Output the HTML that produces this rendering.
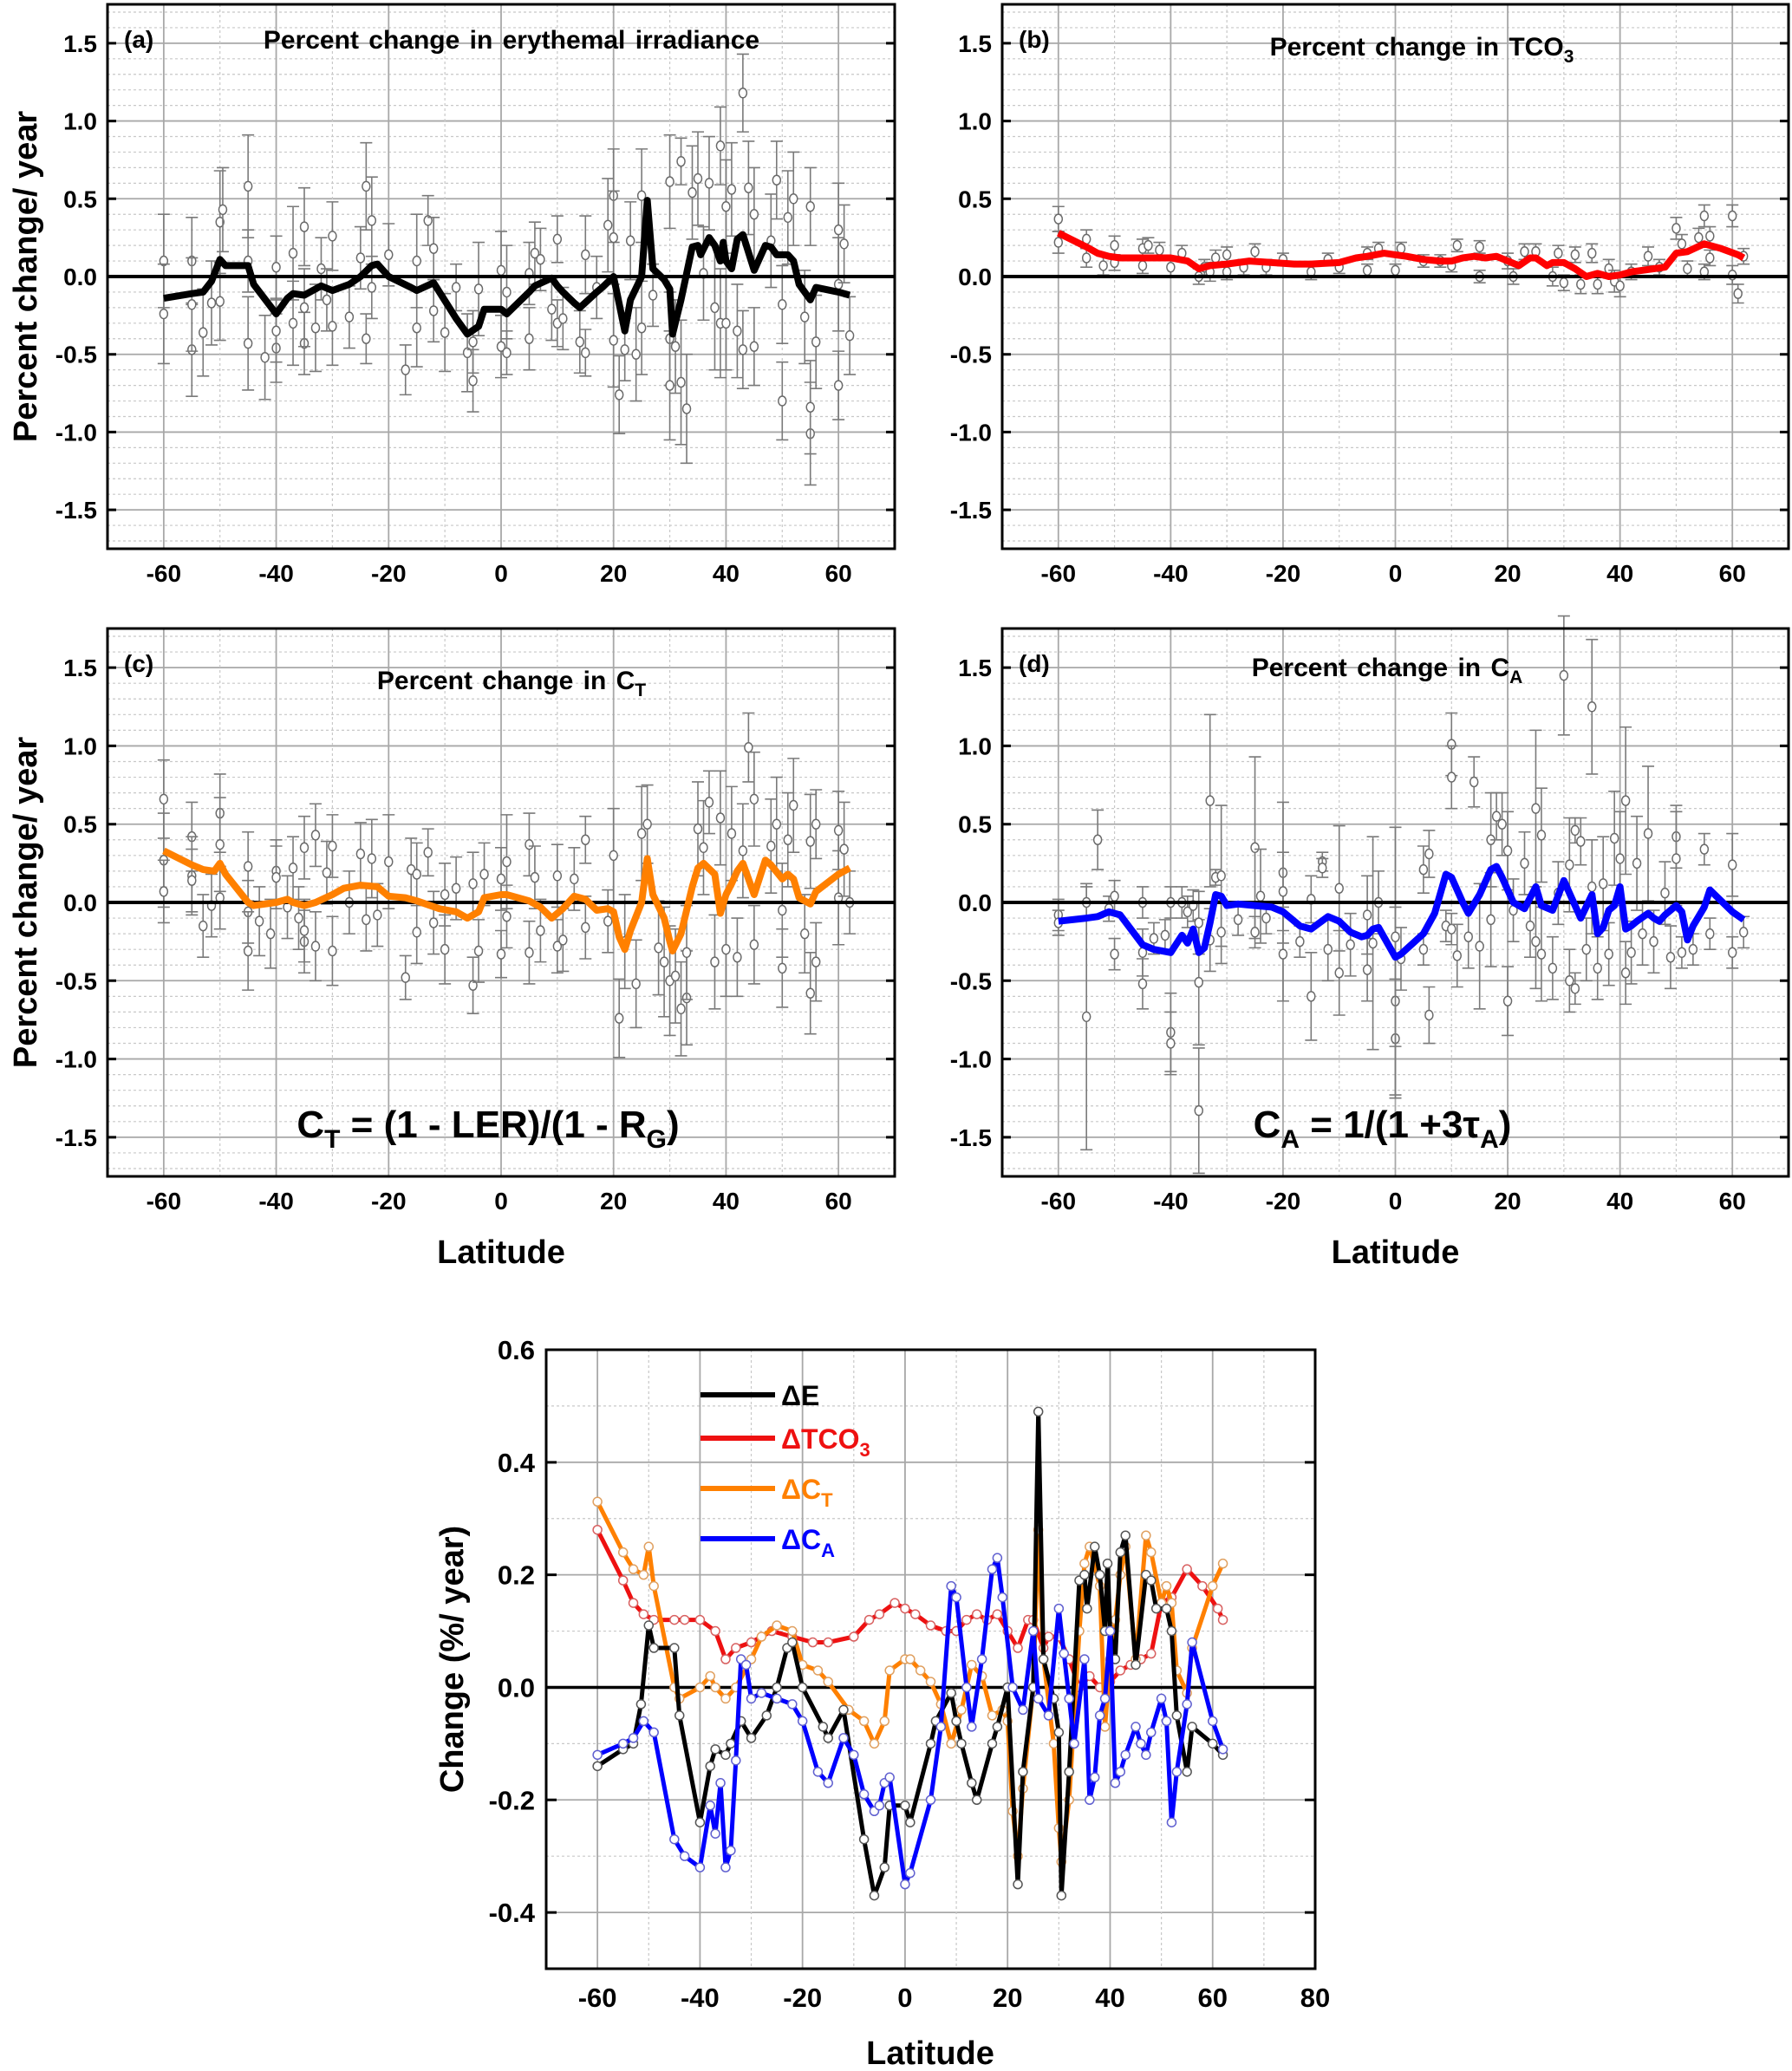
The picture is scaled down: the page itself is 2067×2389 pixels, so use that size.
<!DOCTYPE html>
<html><head><meta charset="utf-8">
<style>
html,body{margin:0;padding:0;background:#fff;}
svg{display:block;font-family:"Liberation Sans",Arial,sans-serif;font-weight:bold;}
</style></head>
<body>
<svg id="fig" width="2067" height="2389" viewBox="0 0 2067 2389" xmlns="http://www.w3.org/2000/svg"></svg>
<script>
// ---- series data (latitude, % change / year) ----
const latE=[-60,-55,-53,-51.5,-50,-49,-45,-44,-40,-38,-37,-35,-34,-32,-30,-27,-25,-23,-22,-20,-16,-15,-12,-8,-6,-4,-3,0,1,5,6,9,10,11,13,14,17,18,20,22,23,25,26,27,29,30,30.5,32,34,35,35.5,37,38,39,39.5,40,41,42,43,45,47,48,49,51,52,53,55,56,60,62];
const valE=[-0.14,-0.11,-0.10,-0.03,0.11,0.07,0.07,-0.05,-0.24,-0.14,-0.11,-0.12,-0.10,-0.06,-0.09,-0.05,0.0,0.07,0.08,0.0,-0.07,-0.09,-0.04,-0.27,-0.37,-0.32,-0.21,-0.21,-0.24,-0.10,-0.06,-0.01,-0.06,-0.10,-0.17,-0.20,-0.10,-0.07,0.0,-0.35,-0.15,0.0,0.49,0.05,-0.02,-0.08,-0.37,-0.15,0.19,0.20,0.14,0.25,0.20,0.10,0.22,0.10,0.05,0.24,0.27,0.04,0.20,0.19,0.14,0.14,0.10,-0.05,-0.15,-0.07,-0.10,-0.12];
const latT=[-60,-55,-53,-51,-49,-45,-43,-40,-37,-35,-33,-30,-26,-22,-18,-15,-10,-7,-5,-2,0,2,5,8,10,12,14,16,18,20,22,24,25,27,28,30,32,34,36,38,40,42,44,46,48,50,52,55,58,61,62];
const valT=[0.28,0.19,0.15,0.13,0.12,0.12,0.12,0.12,0.10,0.05,0.07,0.08,0.10,0.09,0.08,0.08,0.09,0.12,0.13,0.15,0.14,0.13,0.11,0.10,0.10,0.12,0.13,0.12,0.13,0.10,0.07,0.12,0.12,0.07,0.09,0.09,0.05,0.00,0.02,0.00,0.01,0.03,0.04,0.05,0.06,0.15,0.16,0.21,0.18,0.14,0.12];
const latC=[-60,-55,-53,-51,-50,-49,-45,-44,-40,-38,-37,-35,-33,-30,-28,-25,-22,-20,-17,-15,-11,-8,-6,-4,-3,0,1,3,5,7,9,11,13,15,17,19,20,21,22,23,25,26,27,29,30,30.5,32,34,35,36,38,39,40,41,42,43,45,47,48,50,51,52,53,55,56,60,62];
const valC=[0.33,0.24,0.21,0.20,0.25,0.18,0.0,-0.02,0.0,0.02,0.0,-0.02,0.0,0.05,0.09,0.11,0.10,0.04,0.03,0.01,-0.04,-0.06,-0.10,-0.06,0.03,0.05,0.05,0.03,0.01,-0.03,-0.10,-0.04,0.04,0.02,-0.05,-0.04,-0.06,-0.22,-0.30,-0.18,0.0,0.28,0.05,-0.10,-0.25,-0.31,-0.20,0.10,0.22,0.25,0.18,-0.07,0.05,0.12,0.20,0.25,0.05,0.27,0.24,0.15,0.18,0.15,0.03,-0.01,0.07,0.18,0.22];
const latA=[-60,-55,-53,-51,-49,-45,-43,-40,-38,-37,-36,-35,-34,-33,-32,-31,-30,-28,-25,-22,-20,-17,-15,-12,-10,-8,-6,-5,-4,-3,0,1,5,7,9,10,12,13,15,17,18,19,21,23,25,26,28,30,31,32,33,35,36,37,38,39,40,41,42,43,45,46,47,48,50,51,52,53,55,56,60,62];
const valA=[-0.12,-0.10,-0.09,-0.06,-0.08,-0.27,-0.30,-0.32,-0.21,-0.26,-0.17,-0.32,-0.29,-0.13,0.05,0.04,-0.02,-0.01,-0.02,-0.03,-0.06,-0.15,-0.17,-0.09,-0.12,-0.19,-0.22,-0.21,-0.17,-0.16,-0.35,-0.33,-0.20,-0.07,0.18,0.16,0.0,-0.07,0.05,0.21,0.23,0.16,0.0,-0.04,0.10,-0.02,-0.05,0.14,0.06,-0.02,-0.10,0.05,-0.20,-0.16,-0.05,-0.02,0.10,-0.17,-0.15,-0.12,-0.07,-0.10,-0.12,-0.08,-0.02,-0.06,-0.24,-0.15,-0.03,0.08,-0.06,-0.11];

// ---- station scatter points: [lat, value, error] ----
const ptsA=[[-60,0.1,0.3],[-60,-0.24,0.32],[-55,-0.47,0.3],[-55,0.1,0.28],[-55,-0.18,0.3],[-53,-0.36,0.28],[-51.5,-0.17,0.27],[-50,0.35,0.33],[-49.5,0.43,0.27],[-50,-0.16,0.25],[-45,0.58,0.33],[-45,-0.43,0.3],[-45,0.1,0.2],[-42,-0.52,0.27],[-40,0.06,0.2],[-40,-0.46,0.22],[-40,-0.35,0.2],[-37,0.15,0.3],[-37,-0.3,0.27],[-35,0.32,0.25],[-35,-0.43,0.2],[-35,-0.2,0.25],[-33,-0.33,0.28],[-32,0.05,0.2],[-31,-0.15,0.2],[-30,0.26,0.22],[-30,-0.32,0.25],[-27,-0.26,0.2],[-25,0.12,0.2],[-24,0.58,0.28],[-24,-0.4,0.16],[-23,0.36,0.28],[-23,-0.07,0.2],[-20,0.14,0.2],[-17,-0.6,0.16],[-15,0.1,0.3],[-15,-0.33,0.25],[-13,0.36,0.16],[-12,0.18,0.2],[-12,-0.22,0.2],[-10,-0.36,0.25],[-8,-0.07,0.15],[-6,-0.49,0.25],[-5,-0.67,0.2],[-5,-0.42,0.2],[-4,-0.08,0.3],[0,-0.45,0.2],[0,0.04,0.25],[1,-0.49,0.14],[1,-0.1,0.3],[5,0.02,0.2],[5,-0.4,0.2],[6,0.15,0.2],[7,0.11,0.2],[9,-0.21,0.2],[10,0.24,0.15],[10,-0.3,0.15],[11,-0.27,0.2],[14,-0.42,0.2],[15,-0.49,0.15],[15,0.14,0.25],[17,-0.07,0.2],[19,0.33,0.3],[20,0.52,0.3],[20,0.25,0.3],[20,-0.41,0.3],[21,-0.76,0.25],[22,-0.47,0.2],[23,0.23,0.25],[24,-0.5,0.3],[25,0.52,0.3],[25,-0.33,0.3],[27,-0.12,0.2],[30,0.61,0.3],[30,-0.4,0.3],[30,-0.7,0.35],[31,-0.45,0.3],[32,0.74,0.15],[32,-0.68,0.4],[33,-0.85,0.35],[34,0.54,0.3],[35,0.63,0.3],[36,0.02,0.3],[37,0.6,0.3],[38,-0.2,0.4],[39,0.84,0.25],[39,-0.3,0.35],[40,0.45,0.3],[40,-0.3,0.3],[41,0.56,0.3],[42,-0.35,0.3],[43,1.18,0.25],[43,-0.47,0.25],[44,0.57,0.3],[45,-0.45,0.25],[45,0.4,0.3],[48,0.23,0.3],[49,0.62,0.25],[50,-0.18,0.25],[50,-0.8,0.25],[51,0.38,0.3],[52,0.5,0.3],[54,-0.26,0.3],[55,-1.01,0.33],[55,-0.84,0.3],[55,0.45,0.25],[56,-0.42,0.3],[60,0.3,0.3],[60,-0.7,0.22],[60,-0.05,0.3],[61,0.21,0.25],[62,-0.38,0.25]];
const ptsB=[[-60,0.37,0.08],[-60,0.22,0.07],[-55,0.24,0.06],[-55,0.12,0.06],[-52,0.07,0.06],[-50,0.2,0.06],[-50,0.09,0.05],[-45,0.18,0.06],[-45,0.07,0.05],[-44,0.2,0.05],[-42,0.17,0.05],[-40,0.06,0.06],[-38,0.15,0.05],[-35,0.0,0.05],[-34,0.06,0.05],[-33,0.03,0.06],[-32,0.12,0.05],[-30,0.14,0.05],[-30,0.03,0.05],[-27,0.06,0.05],[-25,0.16,0.05],[-23,0.06,0.05],[-20,0.11,0.04],[-15,0.03,0.05],[-12,0.11,0.04],[-10,0.06,0.04],[-5,0.15,0.04],[-5,0.04,0.04],[-3,0.18,0.04],[0,0.04,0.04],[1,0.18,0.04],[5,0.1,0.04],[8,0.1,0.04],[10,0.07,0.04],[11,0.2,0.04],[15,0.19,0.04],[15,0.0,0.04],[20,0.1,0.05],[21,0.0,0.05],[23,0.16,0.05],[25,0.16,0.05],[28,0.0,0.06],[29,0.15,0.05],[30,-0.04,0.05],[32,0.14,0.05],[33,-0.05,0.06],[35,0.15,0.06],[36,-0.05,0.06],[38,0.05,0.06],[39,-0.03,0.07],[40,-0.06,0.07],[42,0.03,0.05],[45,0.13,0.06],[47,0.06,0.05],[50,0.31,0.07],[51,0.21,0.06],[52,0.05,0.05],[54,0.25,0.06],[55,0.39,0.07],[55,0.03,0.05],[56,0.26,0.06],[56,0.12,0.05],[60,0.39,0.07],[60,0.01,0.06],[61,-0.11,0.06],[62,0.13,0.05]];
const ptsC=[[-60,0.66,0.25],[-60,0.27,0.3],[-60,0.07,0.2],[-55,0.42,0.22],[-55,0.17,0.25],[-55,0.14,0.2],[-53,-0.15,0.2],[-51.5,-0.02,0.2],[-50,0.57,0.25],[-50,0.37,0.3],[-50,0.03,0.2],[-45,0.23,0.22],[-45,-0.06,0.2],[-45,-0.31,0.25],[-43,-0.12,0.22],[-41,-0.2,0.22],[-40,0.2,0.2],[-40,0.16,0.2],[-38,-0.03,0.2],[-37,0.22,0.2],[-36,-0.1,0.2],[-35,0.35,0.2],[-35,-0.25,0.2],[-35,-0.18,0.2],[-33,0.43,0.2],[-33,-0.28,0.22],[-31,0.19,0.2],[-30,0.36,0.2],[-30,-0.31,0.22],[-27,0.0,0.2],[-25,0.31,0.2],[-24,-0.11,0.2],[-23,0.28,0.25],[-22,-0.08,0.2],[-20,0.26,0.3],[-17,-0.48,0.14],[-16,0.21,0.2],[-15,0.18,0.2],[-15,-0.19,0.2],[-13,0.32,0.15],[-12,-0.13,0.2],[-10,-0.3,0.22],[-10,0.05,0.2],[-8,0.09,0.2],[-5,-0.53,0.18],[-5,0.12,0.2],[-4,-0.31,0.2],[-3,0.18,0.2],[0,-0.33,0.15],[0,0.15,0.2],[1,0.26,0.3],[1,-0.09,0.2],[5,0.37,0.2],[5,-0.32,0.2],[6,0.16,0.2],[7,-0.18,0.2],[10,-0.28,0.17],[10,0.17,0.2],[11,-0.24,0.2],[13,0.15,0.2],[15,0.4,0.15],[15,-0.16,0.2],[19,-0.12,0.2],[20,0.3,0.3],[21,-0.74,0.25],[22,-0.25,0.3],[24,-0.52,0.28],[25,0.44,0.3],[26,0.5,0.25],[28,-0.29,0.3],[29,-0.38,0.35],[30,-0.5,0.35],[31,-0.47,0.3],[32,-0.68,0.3],[33,-0.61,0.3],[33,-0.32,0.3],[35,0.47,0.3],[36,0.35,0.3],[37,0.64,0.2],[38,-0.38,0.3],[39,0.54,0.3],[40,-0.3,0.3],[41,0.44,0.3],[42,-0.35,0.25],[43,0.33,0.3],[44,0.99,0.22],[45,0.66,0.3],[45,-0.27,0.25],[48,0.36,0.3],[49,0.5,0.3],[50,-0.05,0.3],[50,-0.42,0.25],[51,0.4,0.3],[52,0.62,0.3],[54,-0.2,0.25],[55,-0.58,0.26],[55,0.39,0.3],[56,0.5,0.22],[56,-0.38,0.25],[60,0.46,0.25],[60,0.03,0.3],[61,0.34,0.3],[62,0.0,0.2]];
const ptsD=[[-60,-0.08,0.1],[-60,-0.13,0.08],[-55,-0.73,0.85],[-55,0.0,0.1],[-53,0.4,0.19],[-51,-0.04,0.08],[-50,0.04,0.1],[-50,-0.33,0.1],[-45,0.0,0.1],[-45,-0.32,0.15],[-45,-0.52,0.16],[-43,-0.23,0.1],[-41,-0.21,0.1],[-40,-0.83,0.25],[-40,-0.9,0.2],[-40,0.0,0.1],[-38,0.0,0.1],[-37,-0.06,0.1],[-36,-0.02,0.1],[-35,-1.33,0.4],[-35,-0.51,0.4],[-35,-0.13,0.2],[-33,0.65,0.55],[-33,-0.24,0.2],[-32,0.16,0.05],[-31,0.17,0.45],[-31,-0.19,0.2],[-28,-0.11,0.1],[-25,0.35,0.58],[-25,-0.19,0.1],[-24,0.04,0.3],[-23,-0.1,0.1],[-20,0.19,0.45],[-20,0.07,0.25],[-20,-0.33,0.3],[-17,-0.25,0.1],[-15,-0.6,0.28],[-15,0.02,0.15],[-13,0.26,0.06],[-13,0.22,0.06],[-12,-0.3,0.2],[-10,0.09,0.4],[-10,-0.45,0.27],[-8,-0.27,0.2],[-5,-0.08,0.25],[-5,-0.43,0.2],[-4,-0.26,0.68],[-3,0.0,0.2],[0,-0.87,0.38],[0,-0.63,0.6],[0,-0.22,0.7],[1,-0.36,0.2],[5,0.21,0.15],[5,-0.3,0.1],[6,-0.72,0.18],[6,0.31,0.15],[9,-0.15,0.1],[10,1.01,0.2],[10,0.8,0.2],[10,-0.17,0.1],[11,-0.34,0.2],[13,-0.22,0.2],[14,0.77,0.16],[15,-0.28,0.4],[17,0.4,0.3],[17,-0.11,0.3],[18,0.55,0.15],[19,0.5,0.2],[20,-0.63,0.22],[20,0.33,0.25],[21,-0.05,0.2],[23,0.25,0.2],[24,-0.15,0.2],[25,0.6,0.5],[25,-0.25,0.3],[26,0.43,0.3],[26,-0.33,0.3],[28,-0.42,0.2],[29,0.06,0.2],[30,1.45,0.38],[31,0.24,0.3],[31,-0.5,0.2],[32,0.46,0.08],[32,-0.55,0.1],[33,0.39,0.15],[34,-0.3,0.2],[35,1.25,0.43],[35,0.1,0.3],[36,-0.42,0.2],[37,0.12,0.3],[38,-0.33,0.2],[39,0.41,0.3],[40,0.28,0.3],[41,0.65,0.47],[41,-0.45,0.2],[42,-0.32,0.2],[43,0.25,0.3],[44,-0.2,0.2],[45,0.44,0.43],[46,-0.25,0.2],[48,0.06,0.2],[49,-0.35,0.2],[50,0.42,0.2],[50,0.28,0.3],[51,-0.32,0.1],[53,-0.3,0.1],[55,0.34,0.1],[56,-0.2,0.1],[60,0.24,0.2],[60,-0.32,0.1],[62,-0.19,0.1]];

// ---- tick labels ----
const xTicksTop=[-60,-40,-20,0,20,40,60];
const yTicksTop=[1.5,1.0,0.5,0.0,-0.5,-1.0,-1.5];
const xTicksBot=[-60,-40,-20,0,20,40,60,80];
const yTicksBot=[0.6,0.4,0.2,0.0,-0.2,-0.4];

const NS="http://www.w3.org/2000/svg";
const svg=document.getElementById('fig');
function el(tag,attrs,parent){const e=document.createElementNS(NS,tag);for(const k in attrs)e.setAttribute(k,attrs[k]);(parent||svg).appendChild(e);return e;}

function makeAxes(x0,x1,y0,y1,xmin,xmax,ymin,ymax){
  return {x:v=>x0+(v-xmin)/(xmax-xmin)*(x1-x0), y:v=>y1-(v-ymin)/(ymax-ymin)*(y1-y0)};
}

function grid(g,ax,x0,x1,y0,y1,xmin,xmax,xmaj,xmin2,ymin,ymax,ymaj,ymin2){
  for(let v=Math.ceil(ymin/ymin2)*ymin2; v<=ymax+1e-9; v+=ymin2){
    const isMaj=Math.abs(v/ymaj-Math.round(v/ymaj))<1e-6;
    const l=el('line',{x1:x0,x2:x1,y1:ax.y(v),y2:ax.y(v),stroke:isMaj?'#a8a8a8':'#c8c8c8','stroke-width':isMaj?1.8:1.2,'stroke-dasharray':isMaj?'':'3,3'},g);
    
    
  }
  for(let v=Math.ceil(xmin/xmin2)*xmin2; v<=xmax+1e-9; v+=xmin2){
    const isMaj=Math.abs(v/xmaj-Math.round(v/xmaj))<1e-6;
    const l=el('line',{x1:ax.x(v),x2:ax.x(v),y1:y0,y2:y1,stroke:isMaj?'#a8a8a8':'#c8c8c8','stroke-width':isMaj?1.8:1.2,'stroke-dasharray':isMaj?'':'3,3'},g);
    
    
  }
}

function panel(id,x0,x1,y0,y1,pts,lat,val,color,letter,title,titleX,titleY,formula,showYLabel,showXLabel){
  const g=el('g',{});
  
  
  const ax=makeAxes(x0,x1,y0,y1,-70,70,-1.75,1.75);
  grid(g,ax,x0,x1,y0,y1,-70,70,20,10,-1.75,1.75,0.5,0.1);
  const pg=el('g',{},g);
  
  
  pts.forEach(p=>{
    const cx=ax.x(p[0]),cy=ax.y(p[1]),t=ax.y(p[1]+p[2]),b=ax.y(p[1]-p[2]);
    const eb=el('path',{d:`M${cx},${t}V${b}M${cx-7},${t}H${cx+7}M${cx-7},${b}H${cx+7}`,stroke:'#7a7a7a','stroke-width':1.6,fill:'none'},pg);
    
    
    const c=el('ellipse',{cx:cx,cy:cy,rx:4.5,ry:5.5,fill:'#fff',stroke:'#6a6a6a','stroke-width':1.5},pg);
    
    
  });
  const z=el('line',{x1:x0,x2:x1,y1:ax.y(0),y2:ax.y(0),stroke:'#000','stroke-width':4},g);
  
  
  const d=lat.map((v,i)=>(i?'L':'M')+ax.x(v).toFixed(1)+','+ax.y(val[i]).toFixed(1)).join('');
  const ln=el('path',{d:d,stroke:color,'stroke-width':8,fill:'none','stroke-linejoin':'round'},g);
  
  
  const fr=el('rect',{x:x0,y:y0,width:x1-x0,height:y1-y0,fill:'none',stroke:'#000','stroke-width':3},g);
  
  
  yTicksTop.forEach(v=>{
    const t=el('text',{x:x0-12,y:ax.y(v)+10,'text-anchor':'end','font-size':28},g);
    t.textContent=v.toFixed(1);
    
    
    const tk=el('path',{d:`M${x0},${ax.y(v)}h10M${x1},${ax.y(v)}h-10`,stroke:'#000','stroke-width':3},g);
    
    
  });
  xTicksTop.forEach(v=>{
    const t=el('text',{x:ax.x(v),y:y1+38,'text-anchor':'middle','font-size':28},g);
    t.textContent=v;
    
    
  });
  const lt=el('text',{x:x0+19,y:y0+50,'font-size':28},g);
  lt.textContent=letter;
  
  
  const tt=el('text',{x:titleX,y:titleY,'text-anchor':'middle','font-size':30,'word-spacing':'3'},g);
  tt.innerHTML=title;
  
  
  if(formula){
    const f=el('text',{x:(x0+x1)/2-15,y:y1-45,'text-anchor':'middle','font-size':44},g);
    f.innerHTML=formula;
    
    
  }
  if(showYLabel){
    const yl=el('text',{x:0,y:0,'text-anchor':'middle','font-size':38,transform:`translate(42,${(y0+y1)/2}) rotate(-90)`},g);
    yl.textContent='Percent  change/ year';
    
    
  }
  if(showXLabel){
    const xl=el('text',{x:(x0+x1)/2,y:y1+100,'text-anchor':'middle','font-size':38},g);
    xl.textContent='Latitude';
    
    
  }
}

panel('a',124,1032,5,633,ptsA,latE,valE,'#000','(a)','Percent  change  in  erythemal irradiance',590,56,null,true,false);
panel('b',1156,2063,5,633,ptsB,latT,valT,'#ff0000','(b)','Percent  change  in  TCO<tspan dy="8" font-size="21">3</tspan>',1640,64,null,false,false);
panel('c',124,1032,725,1357,ptsC,latC,valC,'#ff8000','(c)','Percent  change  in  C<tspan dy="8" font-size="21">T</tspan>',590,795,'C<tspan dy="12" font-size="30">T</tspan><tspan dy="-12"> = (1 - LER)/(1 - R</tspan><tspan dy="12" font-size="30">G</tspan><tspan dy="-12">)</tspan>',true,true);
panel('d',1156,2063,725,1357,ptsD,latA,valA,'#0000ff','(d)','Percent  change  in  C<tspan dy="8" font-size="21">A</tspan>',1600,780,'C<tspan dy="12" font-size="30">A</tspan><tspan dy="-12"> = 1/(1 +3τ</tspan><tspan dy="12" font-size="30">A</tspan><tspan dy="-12">)</tspan>',false,true);

// ---- bottom combined chart ----
(function(){
  const x0=630,x1=1517,y0=1557,y1=2271;
  const g=el('g',{});
  
  
  const ax=makeAxes(x0,x1,y0,y1,-70,80,-0.5,0.6);
  grid(g,ax,x0,x1,y0,y1,-70,80,20,10,-0.5,0.6,0.2,0.1);
  const z=el('line',{x1:x0,x2:x1,y1:ax.y(0),y2:ax.y(0),stroke:'#000','stroke-width':3.5},g);
  
  
  const series=[[latT,valT,'#ee1111','#d86060','delta-tco3'],[latC,valC,'#ff8000','#e0a060','delta-ct'],[latE,valE,'#000','#555','delta-e'],[latA,valA,'#0000ff','#6060d0','delta-ca']];
  series.forEach(s=>{
    const sg=el('g',{},g);
    
    
    const d=s[0].map((v,i)=>(i?'L':'M')+ax.x(v).toFixed(1)+','+ax.y(s[1][i]).toFixed(1)).join('');
    const p=el('path',{d:d,stroke:s[2],'stroke-width':5,fill:'none','stroke-linejoin':'round'},sg);
    
    
    s[0].forEach((v,i)=>{
      const c=el('circle',{cx:ax.x(v),cy:ax.y(s[1][i]),r:5,fill:'#fff',stroke:s[3],'stroke-width':1.5},sg);
      
      
    });
  });
  const fr=el('rect',{x:x0,y:y0,width:x1-x0,height:y1-y0,fill:'none',stroke:'#000','stroke-width':3},g);
  
  
  yTicksBot.forEach(v=>{
    const t=el('text',{x:617,y:ax.y(v)+11,'text-anchor':'end','font-size':31},g);
    t.textContent=v.toFixed(1);
    
    
    const tk=el('path',{d:`M${x0},${ax.y(v)}h12M${x1},${ax.y(v)}h-12`,stroke:'#000','stroke-width':3},g);
    
    
  });
  xTicksBot.forEach(v=>{
    const t=el('text',{x:ax.x(v),y:2315,'text-anchor':'middle','font-size':31},g);
    t.textContent=v;
    
    
  });
  const xl=el('text',{x:1073,y:2381,'text-anchor':'middle','font-size':38},g);
  xl.textContent='Latitude';
  
  
  const yl=el('text',{x:0,y:0,'text-anchor':'middle','font-size':38,transform:'translate(534,1914) rotate(-90)'},g);
  yl.textContent='Change (%/ year)';
  
  
  const lg=el('g',{},g);
  
  
  const leg=[['#000','ΔE',1609],['#ee1111','ΔTCO<tspan dy="9" font-size="22">3</tspan>',1659],['#ff8000','ΔC<tspan dy="9" font-size="22">T</tspan>',1717],['#0000ff','ΔC<tspan dy="9" font-size="22">A</tspan>',1775]];
  leg.forEach(L=>{
    const ln=el('line',{x1:808,x2:894,y1:L[2],y2:L[2],stroke:L[0],'stroke-width':6},lg);
    
    
    const t=el('text',{x:901,y:L[2]+12,'font-size':32,fill:L[0]},lg);
    t.innerHTML=L[1];
    
    
  });
})();
</script>
</body></html>
